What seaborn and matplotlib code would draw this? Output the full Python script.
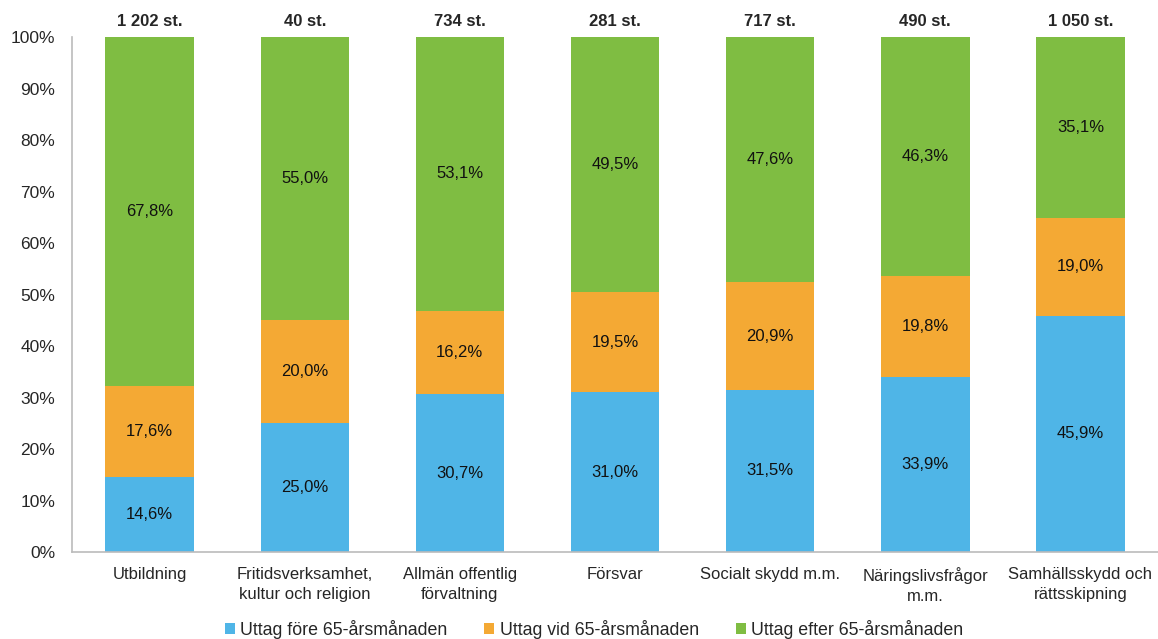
import matplotlib
matplotlib.use("Agg")
import matplotlib.pyplot as plt
import seaborn as sns
import numpy as np
import pandas as pd
from matplotlib.patches import Patch

categories = ["Utbildning", "Fritidsverksamhet,\nkultur och religion", "Allmän offentlig\nförvaltning",
              "Försvar", "Socialt skydd m.m.", "Näringslivsfrågor\nm.m.", "Samhällsskydd och\nrättsskipning"]
totals = ["1 202 st.", "40 st.", "734 st.", "281 st.", "717 st.", "490 st.", "1 050 st."]
fore = [14.6, 25.0, 30.7, 31.0, 31.5, 33.9, 45.9]
vid = [17.6, 20.0, 16.2, 19.5, 20.9, 19.8, 19.0]
efter = [67.8, 55.0, 53.1, 49.5, 47.6, 46.3, 35.1]
series_names = ["Uttag före 65-årsmånaden", "Uttag vid 65-årsmånaden", "Uttag efter 65-årsmånaden"]
colors = ["#4FB5E7", "#F4A934", "#7FBD42"]

sns.set_style("white")
plt.rcParams['font.family'] = ['Liberation Sans', 'DejaVu Sans']

fig = plt.figure(figsize=(11.58, 6.39), dpi=100)
ax = fig.add_axes([0.0622, 0.136, 0.9378, 0.806])

df = pd.DataFrame({"cat": categories, "fore": fore, "vid": vid, "efter": efter})
bottom = np.zeros(len(categories))
for col, name, c in zip(["fore", "vid", "efter"], series_names, colors):
    sns.barplot(data=df, x="cat", y=col, bottom=bottom, color=c, width=0.57, ax=ax,
                saturation=1, edgecolor="none")
    vals = df[col].values
    for i, v in enumerate(vals):
        ax.text(i, bottom[i] + v / 2, f"{v:.1f}%".replace(".", ","), ha="center", va="center",
                fontsize=12, color="#111111")
    bottom = bottom + vals

for i, t in enumerate(totals):
    ax.text(i, 101.5, t, ha="center", va="bottom", fontsize=12, fontweight="bold")

ax.set_ylim(0, 100)
ax.set_xlim(-0.5, len(categories) - 0.5)
ax.set_yticks(np.arange(0, 101, 10))
ax.set_yticklabels([f"{v}%" for v in range(0, 101, 10)], fontsize=12.5)
ax.set_xticks(range(len(categories)))
ax.set_xticklabels(categories, fontsize=12, linespacing=1.35)
ax.tick_params(axis="y", length=0, pad=12)
ax.tick_params(axis="x", length=0, pad=11)
ax.set_xlabel("")
ax.set_ylabel("")
for s in ["top", "right"]:
    ax.spines[s].set_visible(False)
for s in ["left", "bottom"]:
    ax.spines[s].set_color("#BBBBBB")
    ax.spines[s].set_linewidth(1.2)

handles = [Patch(facecolor=c, edgecolor="none") for c in colors]
fig.legend(handles, series_names, loc="lower center", bbox_to_anchor=(0.513, -0.025), ncol=3,
           frameon=False, fontsize=12.8, handlelength=0.55, handleheight=0.55, handletextpad=0.3,
           columnspacing=2.1)

fig.savefig("out.png", dpi=100)
